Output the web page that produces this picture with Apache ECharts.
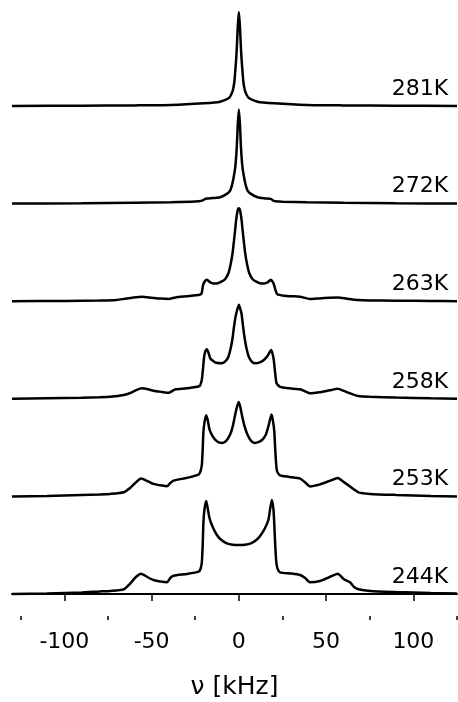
<!DOCTYPE html>
<html>
<head>
<meta charset="utf-8">
<script src="https://cdn.jsdelivr.net/npm/echarts@6/dist/echarts.min.js"></script>
<style>
html,body{margin:0;padding:0;background:#fff;}
#chart{width:458px;height:702px;}
</style>
</head>
<body>
<div id="chart"></div>
<script>
// temperatures, top to bottom
const temps = ['281K','272K','263K','258K','253K','244K'];

// spectra: [frequency (kHz), intensity]
const s281K = [[-130,0],[-90,0.3],[-60,0.6],[-39,1],[-20,2.7],[-10.7,4.3],[-5.9,7.7],[-4.5,11],[-3.4,16],[-2.6,24],[-2.1,34],[-1.5,48],[-1.1,61],[-0.6,80],[0,94],[0.6,80],[1.1,61],[1.5,48],[2.1,34],[2.6,24],[3.4,16],[4.5,11],[5.9,7.7],[10.7,4.3],[20,2.7],[39,1],[60,0.6],[90,0.3],[125,0]];

const s272K = [[-130,0],[-90,0.3],[-60,0.8],[-39,1.3],[-25,2],[-21,3],[-19.5,4.5],[-18.3,5],[-15,5.5],[-10.7,6.3],[-6.9,9.7],[-5,13],[-4,18],[-3,26],[-2.1,36],[-1.5,48],[-1.1,60],[-0.6,80],[0,94],[0.6,80],[1.1,60],[1.5,48],[2.1,36],[3,26],[4,18],[5,13],[6.9,9.7],[10.7,6.3],[15,5.2],[18.3,4.7],[19.8,3],[21,2.3],[25,1.8],[39,1.3],[60,0.8],[90,0.3],[125,0]];

const s263K = [[-130,0],[-100,0.3],[-80,0.8],[-70,1.3],[-66,2.2],[-61,3.5],[-55.5,4.5],[-50,3.5],[-45,2.6],[-40.2,2.2],[-36.3,3.8],[-30,5],[-22.5,6.5],[-21.3,8],[-20.6,15.5],[-19.5,20],[-18.3,21.5],[-16.4,18.8],[-14.5,17.8],[-12.6,17.8],[-10,19.5],[-7.9,22],[-6,28],[-4.7,37],[-3.7,47],[-2.8,60.5],[-2.2,70],[-1.6,80.5],[-1,88],[-0.5,92],[0,93],[0.5,92],[1,88],[1.6,80.5],[2.2,70],[2.8,60.5],[3.7,47],[4.7,37],[6,28],[7.9,22],[10,19.5],[12.6,17.8],[14.5,17.8],[16.4,18.8],[18.3,21.5],[19.5,19],[20.3,15.5],[21,11],[22,7],[26,5.5],[30,5],[35,4.5],[40.8,2.2],[46,2.8],[52,3.5],[56.7,3.8],[62,2.5],[68.5,1.2],[75,0.8],[90,0.5],[110,0.3],[125,0]];

const s258K = [[-130,0],[-110,0.5],[-90,1],[-80,1.5],[-73.7,2],[-66,3.8],[-62,6],[-58.5,9],[-55.5,10.5],[-52,9.5],[-48.9,8],[-44,6.8],[-40.2,6],[-38,8],[-36.3,9.5],[-29.8,10.5],[-22.5,12.8],[-21.5,17],[-21,22],[-20.4,33],[-19.9,42],[-19.2,47.5],[-18.3,49.5],[-17.4,46],[-16.4,40.5],[-14.5,37.5],[-13,36],[-9.8,35.5],[-7.5,38],[-6,42],[-4.5,52],[-3.5,62],[-2.8,72],[-2,81],[-1,88.8],[0,94],[0.8,90],[1.5,85.5],[2.3,74],[3.2,62],[4.3,51],[5.7,42],[7.5,37],[9.5,35.5],[12,36.5],[14.3,38.8],[16.5,43],[18.5,48.8],[19.3,45],[20,38.8],[20.8,26],[21.6,15.5],[23.6,12],[29,10.5],[35.1,9.5],[38,7.5],[40.8,5.5],[46,6.5],[52,8.5],[56.7,10],[60,8],[63.7,5.5],[68.5,2.8],[75,2],[90,1.2],[110,0.5],[125,0]];

const s253K = [[-130,0],[-110,0.5],[-90,1.5],[-80,2],[-73.7,2.5],[-66,4.2],[-62,9],[-59,14],[-56.1,17.8],[-52,15],[-48.9,12.5],[-44,10.8],[-41.2,10.2],[-39.5,13],[-37.4,15.8],[-29.8,18.5],[-23.1,21.8],[-22,25],[-21.2,31.8],[-20.7,48],[-20.3,65],[-19.5,76],[-18.7,81.2],[-17.8,76],[-16.8,66.8],[-15,60],[-13.6,56.8],[-11.5,54],[-9.2,53.5],[-7,56],[-5,61.8],[-3.5,70],[-2.1,81.8],[-1,90],[0,94.5],[1,88],[1.9,80],[3.3,70],[4.9,61.8],[7,55.5],[9.1,53.5],[11.5,54.5],[13.5,56.8],[15.5,62],[16.9,70],[17.9,77],[18.7,81.8],[19.5,76],[20.3,65],[20.9,45],[21.4,32],[21.9,25],[23.6,21],[29,19.5],[35.1,17.8],[38,14],[40.8,10],[46.5,12],[52,15.5],[56.7,18.5],[60,14.5],[63.7,10],[66,7],[68.5,4],[75.2,2.5],[90,1.5],[110,0.5],[125,0]];

const s244K = [[-130,0],[-110,0.5],[-90,1.5],[-80,2.5],[-73.7,3],[-66,4.7],[-62,11],[-59,17],[-56.1,20.3],[-52,16.5],[-48.9,14],[-45,12.5],[-41.2,11.7],[-39.3,16],[-37.4,18.3],[-29.8,20],[-23.1,22.3],[-22,25],[-21.2,32],[-20.7,50],[-20.3,72],[-19.6,86],[-18.7,93],[-17.9,86],[-16.8,75.7],[-15,67],[-12.6,59],[-10,54],[-6.9,50.7],[-3.5,49.3],[0,49],[3.5,49.3],[6.9,50.7],[10,54],[12.6,59],[15,66],[16.9,74],[18,86],[18.9,94],[19.8,85],[20.3,70],[20.8,50],[21.4,33],[22.1,25.7],[23.6,21.7],[30,20.5],[35.1,19],[38,16],[40.8,11.7],[46.5,13],[52,17],[56.7,20.3],[60,15],[63.7,11.7],[66,7],[68.5,4.7],[75.2,3],[90,2],[110,1],[125,0.5]];

const majorTicks = [-100,-50,0,50,100];
const minorTicks = [-125,-75,-25,25,75,125];

const spectra = [s281K, s272K, s263K, s258K, s253K, s244K];
const step = 97.6;          // vertical offset between stacked spectra
const n = spectra.length;

const chart = echarts.init(document.getElementById('chart'));
const FONT = 'DejaVu Sans, sans-serif';

const series = spectra.map((s, k) => {
  const off = (n - 1 - k) * step;
  return {
    type: 'line',
    xAxisIndex: 0,
    data: s.map(p => [p[0], p[1] + off]),
    showSymbol: false,
    smooth: 0.2,
    lineStyle: {color: '#000', width: 2.5},
    silent: true,
    z: 2
  };
});

series.push({
  type: 'scatter',
  xAxisIndex: 0,
  symbolSize: 0,
  silent: true,
  itemStyle: {opacity: 1},
  data: temps.map((t, k) => [120, (n - 1 - k) * step + 17, t]),
  label: {
    show: true,
    position: 'left',
    distance: 0,
    opacity: 1,
    formatter: p => p.data[2],
    fontFamily: FONT,
    fontSize: 22,
    color: '#000'
  }
});

chart.setOption({
  animation: false,
  backgroundColor: '#fff',
  grid: {left: 12, right: 1, top: 0, bottom: 86, containLabel: false, outerBoundsMode: 'none'},
  xAxis: [{
    type: 'value',
    position: 'bottom',
    min: -130, max: 125,
    name: 'ν [kHz]',
    nameLocation: 'middle',
    nameGap: 59,
    nameTextStyle: {fontFamily: FONT, fontSize: 25, color: '#000'},
    axisLine: {show: true, lineStyle: {color: '#000', width: 2}},
    axisTick: {show: true, customValues: majorTicks, length: 7, lineStyle: {color: '#000', width: 1.5}},
    axisLabel: {show: true, customValues: majorTicks, margin: 15, fontFamily: FONT, fontSize: 22, color: '#000'},
    splitLine: {show: false}
  }, {
    type: 'value',
    position: 'bottom',
    offset: 0,
    min: -130, max: 125,
    axisLine: {show: false},
    axisTick: {show: true, customValues: minorTicks, length: 4, lineStyle: {color: '#000', width: 1.5}},
    axisLabel: {show: false},
    splitLine: {show: false}
  }],
  yAxis: {
    type: 'value',
    min: -22, max: 594,
    show: false,
    splitLine: {show: false}
  },
  series: series
});
</script>
</body>
</html>
